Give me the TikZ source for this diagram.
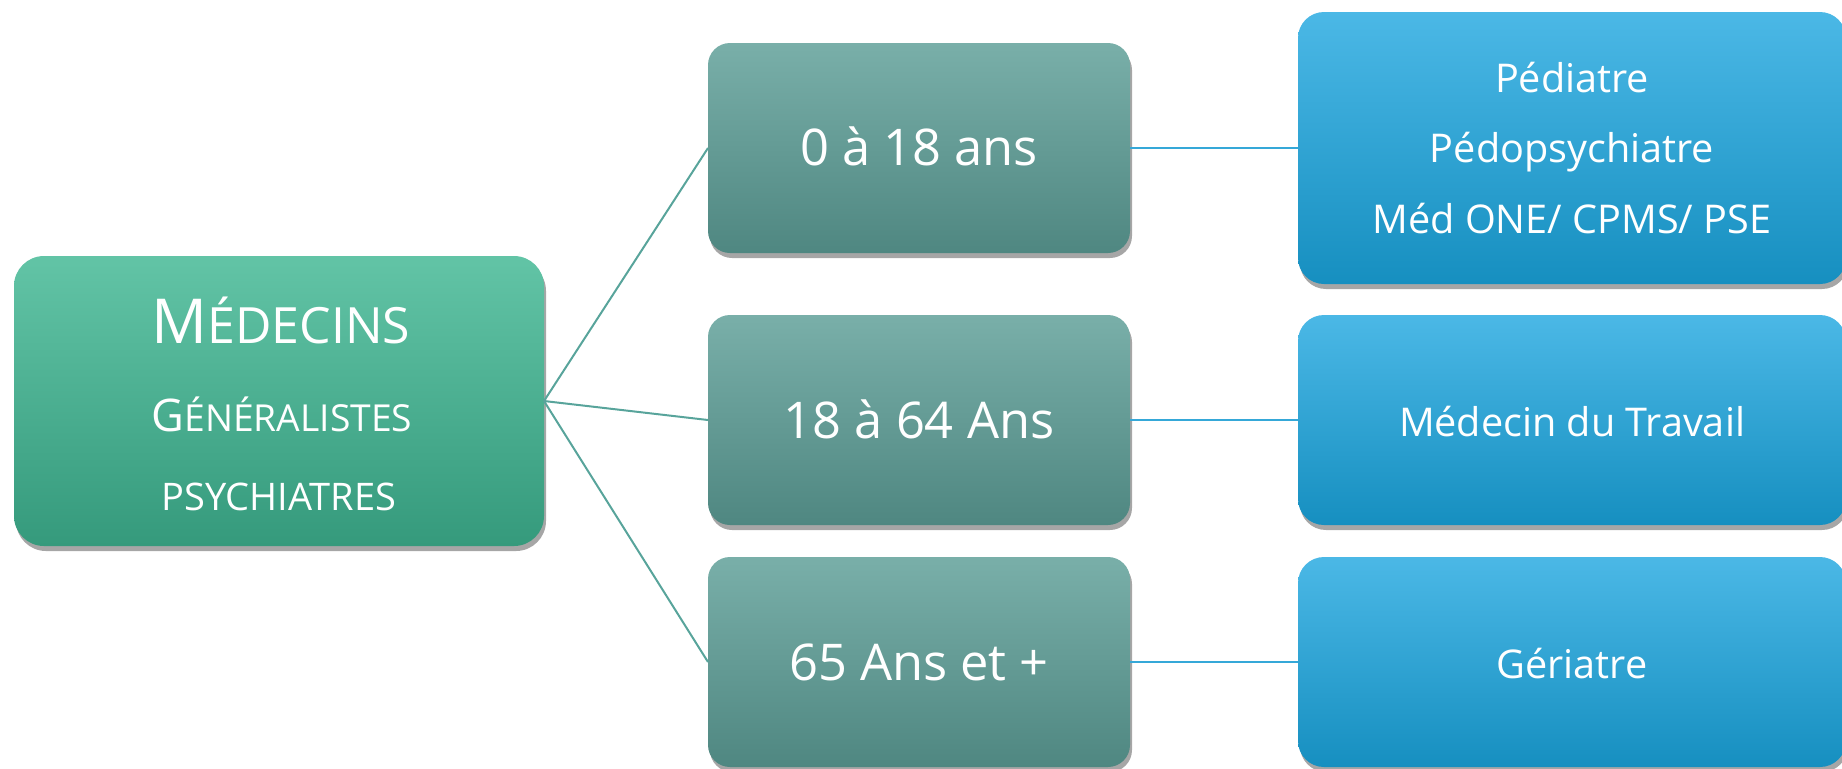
\documentclass[tikz,border=0pt]{standalone}
\usepackage{fontspec}
\setmainfont{Open Sans}
\usetikzlibrary{shadows}
\definecolor{gtop}{RGB}{98,196,166}
\definecolor{gbot}{RGB}{53,154,124}
\definecolor{mtop}{RGB}{121,175,169}
\definecolor{mbot}{RGB}{79,135,129}
\definecolor{btop}{RGB}{75,184,230}
\definecolor{bbot}{RGB}{22,143,192}
\definecolor{tealline}{RGB}{88,164,155}
\definecolor{blueline}{RGB}{53,168,216}
\tikzset{
 boxbase/.style={rounded corners=#1, inner sep=0pt, outer sep=0pt, draw=none,
   drop shadow={shadow xshift=1pt, shadow yshift=-2.5pt, opacity=0.35, fill=black}},
 rootbox/.style={boxbase=15pt, top color=gtop, bottom color=gbot, minimum width=265pt, minimum height=145pt},
 agebox/.style={boxbase=11pt, top color=mtop, bottom color=mbot, minimum width=211pt, minimum height=105pt},
 specbox/.style={boxbase=13pt, top color=btop, bottom color=bbot, minimum width=274pt, minimum height=105pt},
 lbl/.style={text=white, anchor=base, inner sep=0pt},
 agetxt/.style={lbl, font=\fontsize{25.3}{30}\selectfont},
 spectxt/.style={lbl, font=\fontsize{19.8}{24}\selectfont},
 conn/.style={line width=1pt},
}
\begin{document}
\begin{tikzpicture}[x=0.5pt, y=-0.5pt]
\useasboundingbox (0,0) rectangle (1842,768);
% boxes
\node[rootbox] (root) at (279,401) {};
\node[agebox] (a1) at (919,148) {};
\node[agebox] (a2) at (919,420) {};
\node[agebox] (a3) at (919,662) {};
\node[specbox, minimum height=136pt] (s1) at (1572,148) {};
\node[specbox] (s2) at (1572,420) {};
\node[specbox] (s3) at (1572,662) {};
% connectors
\draw[conn, tealline] (root.east) -- (a1.west);
\draw[conn, tealline] (root.east) -- (a2.west);
\draw[conn, tealline] (root.east) -- (a3.west);
\draw[conn, blueline] (a1.east) -- (s1.west);
\draw[conn, blueline] (a2.east) -- (s2.west);
\draw[conn, blueline] (a3.east) -- (s3.west);
% texts
\node[lbl] (r1) at (281,343) {{\fontsize{31}{36}\selectfont M}{\fontsize{25}{30}\selectfont ÉDECINS}};
\node[lbl] (r2) at (282,431) {{\fontsize{22.5}{26}\selectfont G}{\fontsize{18.6}{22}\selectfont ÉNÉRALISTES}};
\node[lbl] (r3) at (279,510) {\fontsize{19}{22}\selectfont PSYCHIATRES};
\node[agetxt] (t1) at (919,165) {0 à 18 ans};
\node[agetxt] (t2) at (919,438) {18 à 64 Ans};
\node[agetxt] (t3) at (919,680) {65 Ans et +};
\node[spectxt] (p1) at (1572,92) {Pédiatre};
\node[spectxt] (p2) at (1572,162) {Pédopsychiatre};
\node[spectxt] (p3) at (1572,233) {Méd ONE/ CPMS/ PSE};
\node[spectxt] (p4) at (1572,436) {Médecin du Travail};
\node[spectxt] (p5) at (1572,678) {Gériatre};
\end{tikzpicture}
\end{document}
